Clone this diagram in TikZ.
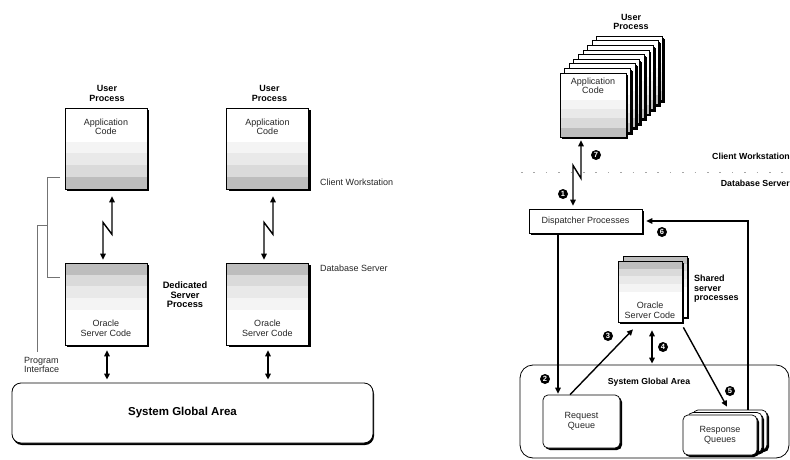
\documentclass[tikz,border=0pt]{standalone}
\usepackage{fontspec}
\setmainfont{Liberation Sans}
\usetikzlibrary{arrows.meta,calc,shadows}
\definecolor{bA}{HTML}{BDBDBD}
\definecolor{bB}{HTML}{DADADA}
\definecolor{bC}{HTML}{E9E9E9}
\definecolor{bD}{HTML}{F4F4F4}
\begin{document}
\begin{tikzpicture}[x=1pt,y=-1pt,
  shad/.style={drop shadow={shadow xshift=#1,shadow yshift=-#1,fill=black,opacity=1}},
  box/.style={draw, line width=0.7pt, fill=white, inner sep=0, shad=2.4pt},
  bandsbot/.style={path picture={
     \coordinate (ppsw) at (path picture bounding box.south west);
     \coordinate (ppse) at (path picture bounding box.south east);
     \coordinate (ppne) at (path picture bounding box.north east);
     \coordinate (ppnw) at (path picture bounding box.north west);
     \fill[bD] ($(ppsw)!0.58!(ppnw)$) rectangle ($(ppse)!0.44!(ppne)$);
     \fill[bC] ($(ppsw)!0.44!(ppnw)$) rectangle ($(ppse)!0.296!(ppne)$);
     \fill[bB] ($(ppsw)!0.296!(ppnw)$) rectangle ($(ppse)!0.148!(ppne)$);
     \fill[bA] (ppsw) rectangle ($(ppse)!0.148!(ppne)$);
  }},
  bandstop/.style={path picture={
     \coordinate (ppsw) at (path picture bounding box.south west);
     \coordinate (ppse) at (path picture bounding box.south east);
     \coordinate (ppne) at (path picture bounding box.north east);
     \coordinate (ppnw) at (path picture bounding box.north west);
     \fill[bD] ($(ppnw)!#1*0.75!(ppsw)$) rectangle ($(ppne)!#1!(ppse)$);
     \fill[bC] ($(ppnw)!#1*0.5!(ppsw)$) rectangle ($(ppne)!#1*0.75!(ppse)$);
     \fill[bB] ($(ppnw)!#1*0.25!(ppsw)$) rectangle ($(ppne)!#1*0.5!(ppse)$);
     \fill[bA] (ppnw) rectangle ($(ppne)!#1*0.25!(ppse)$);
  }},
  appbox/.style={box, minimum width=82pt, minimum height=81pt, bandsbot},
  srvbox/.style={box, minimum width=82pt, minimum height=82pt, bandstop=0.57},
  upbox/.style={box, shad=1.6pt, minimum width=66pt, minimum height=64pt, bandsbot},
  ssbox/.style={box, shad=1.8pt, minimum width=64pt, minimum height=61pt, bandstop=0.5},
  qbox/.style={draw, line width=0.7pt, fill=white, rounded corners=5pt, inner sep=0, shad=2pt},
  txt/.style={font=\fontsize{9}{9.6}\selectfont, text=black!85, align=center, inner sep=0},
  btxt/.style={font=\bfseries\fontsize{9}{9.6}\selectfont, align=center, inner sep=0},
  num/.style={circle, fill=black, text=white, font=\bfseries\fontsize{7.5}{7.5}\selectfont, inner sep=0, minimum size=10pt},
  arr/.style={line width=1.4pt, -{Triangle[length=6pt,width=5.5pt]}},
  darr/.style={line width=1.4pt, {Triangle[length=6pt,width=5.5pt]}-{Triangle[length=6pt,width=5.5pt]}},
  brk/.style={draw=black!55, line width=0.6pt}
]
\useasboundingbox (0,0) rectangle (790,460);

% ================= LEFT =================
\node[draw, line width=0.8pt, fill=white, rounded corners=9pt, minimum width=361pt, minimum height=60pt,
      drop shadow={shadow xshift=1pt,shadow yshift=-2pt,fill=black,opacity=1}] (sga1) at (192.5,413) {};
\node[btxt, font=\bfseries\fontsize{11.5}{12}\selectfont] (sga1t) at (182.5,413) {System Global Area};

\node[appbox] (app1) at (106,148.5) {};
\node[appbox] (app2) at (267.5,148.5) {};
\node[txt, anchor=north] (app1t) at ([yshift=-11pt]app1.north) {Application\\Code};
\node[txt, anchor=north] (app2t) at ([yshift=-11pt]app2.north) {Application\\Code};
\node[btxt, anchor=south] (up1) at ([xshift=1pt,yshift=6pt]app1.north) {User\\Process};
\node[btxt, anchor=south] (up2) at ([xshift=2pt,yshift=6pt]app2.north) {User\\Process};

\node[srvbox] (srv1) at (106,304) {};
\node[srvbox] (srv2) at (267.5,304) {};
\node[txt, anchor=south] (srv1t) at ([yshift=9pt]srv1.south) {Oracle\\Server Code};
\node[txt, anchor=south] (srv2t) at ([yshift=9pt]srv2.south) {Oracle\\Server Code};

\draw[darr] ([xshift=6pt,yshift=-7pt]app1.south) -- ++(0,38) -- ++(-9,-12) -- ([xshift=-3pt,yshift=3pt]srv1.north);
\draw[darr] ([xshift=5.5pt,yshift=-7pt]app2.south) -- ++(0,38) -- ++(-9,-12) -- ([xshift=-3.5pt,yshift=3pt]srv2.north);

\draw[darr] ([xshift=1pt,yshift=-5pt]srv1.south) -- ([xshift=1pt,yshift=3pt]srv1.south |- sga1.north) ;
\draw[darr] ([xshift=0.5pt,yshift=-5pt]srv2.south) -- ([xshift=0.5pt,yshift=3pt]srv2.south |- sga1.north);

\node[txt, anchor=west] (cw1) at (320,182) {Client Workstation};
\node[txt, anchor=west] (ds1) at (320,268) {Database Server};
\node[btxt, font=\bfseries\fontsize{9.3}{9.6}\selectfont] (ded) at (185,295) {Dedicated\\Server\\Process};

\coordinate (b1) at (60,177);
\coordinate (b2) at (60,277);
\draw[brk] (b1) -- (47,177) -- (47,277) -- (b2);
\draw[brk] (47,225) -- (37,225) -- (37,352);
\node[txt, anchor=west, align=left] (pi) at (24,365) {Program\\Interface};

% ================= RIGHT =================
\node[draw, line width=0.8pt, fill=white, rounded corners=13pt, minimum width=269pt, minimum height=93pt] (sga2) at (654.5,411.5) {};
\node[btxt, font=\bfseries\fontsize{8.7}{9}\selectfont] (sga2t) at (649,382) {System Global Area};

\foreach \k in {8,7,...,1} {
  \node[upbox] (upk\k) at ({593+4.6*\k},{105-4.6*\k}) {};
}
\node[upbox] (up0) at (593,105) {};
\node[txt, anchor=north] (up0t) at ([yshift=-5pt]up0.north) {Application\\Code};
\node[btxt] (upr) at (631,22) {User\\Process};

\draw[gray!70, line width=0.9pt, dash pattern=on 1.6pt off 10.8pt] (521,172) -- (790,172);
\node[btxt, anchor=east, font=\bfseries\fontsize{8.8}{9}\selectfont] (cw2) at (790,156) {Client Workstation};
\node[btxt, anchor=east, font=\bfseries\fontsize{8.8}{9}\selectfont] (ds2) at (790,183) {Database Server};

\node[box, txt, minimum width=113pt, minimum height=24pt] (disp) at (585.5,221) {Dispatcher Processes};

\draw[darr] ([xshift=-12pt,yshift=-3pt]up0.south) -- ++(0,38) -- ++(-8,-13) -- ([xshift=-12.5pt,yshift=3pt]disp.north);

\node[ssbox] (ss1) at (655,286.5) {};
\node[ssbox] (ss0) at (650,291.5) {};
\node[txt, anchor=south] (ss0t) at ([yshift=4pt]ss0.south) {Oracle\\Server Code};
\node[btxt, anchor=west, align=left] (shp) at (694,289) {Shared\\server\\processes};

\node[qbox, txt, minimum width=77pt, minimum height=53pt] (req) at (581.5,421.5) {Request\\Queue};
\node[qbox, minimum width=74pt, minimum height=40pt] (rq2) at (730,430) {};
\node[qbox, minimum width=74pt, minimum height=40pt] (rq1) at (725,432.5) {};
\node[qbox, txt, minimum width=74pt, minimum height=40pt] (rq0) at (720,435) {Response\\Queues};

\draw[arr] ([xshift=18pt]rq2.north) |- ([xshift=4pt]disp.east);
\draw[arr, shorten >=1pt] ([xshift=-27.5pt]disp.south) -- ([xshift=-27.5pt]disp.south |- req.north);
\draw[arr] ([xshift=-11.5pt]req.north) -- ([xshift=-17pt,yshift=-7pt]ss0.south);
\draw[darr, shorten >=1pt] ([xshift=2pt,yshift=-8pt]ss0.south) -- ([xshift=2pt]ss0.south |- sga2.north);
\draw[arr] ([xshift=1pt,yshift=-5pt]ss0.south east) -- ([xshift=7pt,yshift=8pt]rq0.north);

\node[num] (n1) at (563,194) {1};
\node[num] (n2) at (545,379) {2};
\node[num] (n3) at (608,336) {3};
\node[num] (n4) at (663,347) {4};
\node[num] (n5) at (730,391) {5};
\node[num] (n6) at (662,232) {6};
\node[num] (n7) at (596,155) {7};
\end{tikzpicture}
\end{document}
